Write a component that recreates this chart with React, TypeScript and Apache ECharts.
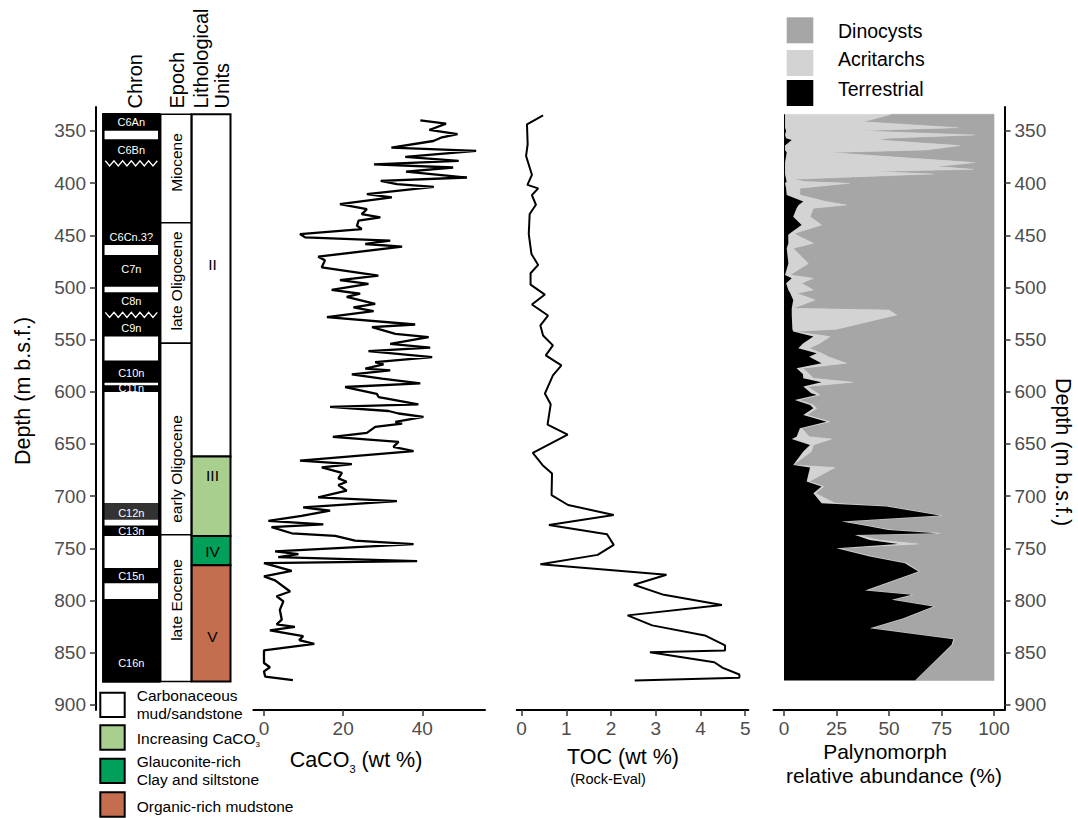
import React, { useEffect, useRef } from "react";
import * as echarts from "echarts";

const FONT = '"Liberation Sans", Arial, Helvetica, sans-serif';

// ---- tick labels ----
const depthTicks = [350, 400, 450, 500, 550, 600, 650, 700, 750, 800, 850, 900];
const caco3Ticks = [0, 20, 40];
const tocTicks = [0, 1, 2, 3, 4, 5];
const palyTicks = [0, 25, 50, 75, 100];

// ---- CaCO3 (wt %) vs depth ----
const caco3Depth = [339.8, 343, 349, 353, 356, 359.6, 366, 369, 374.8, 378.7, 382, 385, 389, 394.6, 397.8, 401, 403.5, 410.5, 413.7, 420, 425, 429.6, 432.9, 436, 440.8, 444, 448.8, 452, 455, 458.3, 460.9, 470.5, 474, 480.7, 488.6, 493, 496.6, 502.3, 506, 509, 515.7, 519, 522.7, 528.5, 535.5, 538, 544.4, 547.6, 554, 557.7, 561, 566.7, 571.5, 573.7, 577.8, 579.4, 583.3, 587.4, 592, 595.4, 602, 605, 612, 614.5, 618.4, 620.8, 624, 628.8, 630.4, 633.6, 639.4, 643.2, 648, 652.8, 656.9, 666, 669.3, 672.5, 677.6, 683, 686.2, 689.4, 694.8, 701.2, 704.7, 710.7, 714, 719, 723.8, 727, 729.8, 735.6, 738.1, 742.6, 746, 753, 755.6, 758.5, 762.3, 764.3, 771.6, 777, 780.8, 791.4, 796, 800.9, 809, 818.4, 823, 825.4, 828.6, 834.3, 838, 841.7, 847.8, 859.9, 864, 868, 873, 876.4];
const caco3Value = [39.5, 46, 41.8, 48.9, 45, 42.8, 32.2, 53.6, 35.7, 49.2, 27.8, 47.8, 35.9, 51.3, 29.5, 33.6, 42.9, 26, 32.3, 19.2, 26, 24.7, 29.4, 23.9, 23.5, 24.7, 9.1, 10.4, 31.9, 25.6, 34.9, 13.7, 15.4, 14.6, 28.9, 19.2, 26.4, 17.1, 24.3, 20.9, 28.1, 22.6, 27.7, 15.9, 38.2, 27.3, 33.2, 41.6, 31.9, 42, 26.4, 42.5, 28.1, 30.2, 25.6, 31.9, 22.2, 29.8, 39.5, 20.5, 28.5, 29, 39, 16.7, 31.5, 34, 40.3, 33.2, 34.9, 28.1, 26, 17.4, 34, 32.7, 37.8, 9.1, 22.2, 14.6, 19.7, 18.8, 20.9, 18.8, 20.9, 13.7, 33.6, 9.9, 16.7, 9.5, 1.1, 15, 1.9, 7, 18, 23, 37.8, 2.8, 8.7, 3.6, 38.7, 0, 7, 0, 2.8, 6.6, 3.2, 4.9, 4, 4.5, 3.2, 7.8, 1.5, 9.9, 8.9, 12.7, 0, 0, 1.5, 0, 0.3, 7.3];

// ---- TOC (wt %) vs depth ----
const tocDepth = [335, 343.6, 362.7, 373.9, 392, 401.6, 405, 411.5, 420.7, 429.6, 448.8, 467.9, 478.4, 486.4, 497.2, 506.8, 516.3, 526.9, 536.4, 546, 555.5, 565, 574.7, 584.2, 601.7, 612, 631.4, 641, 658.5, 670.3, 678.2, 699, 708.5, 718, 727.6, 736.5, 746.7, 756.3, 765.2, 775.4, 785, 794.6, 804.4, 814.3, 823.9, 833.5, 843, 848, 849.7, 859.2, 864.6, 871, 874, 876.8];
const tocValue = [0.48, 0.12, 0.135, 0.1, 0.23, 0.13, 0.37, 0.23, 0.32, 0.18, 0.16, 0.22, 0.37, 0.2, 0.2, 0.52, 0.23, 0.59, 0.42, 0.48, 0.7, 0.54, 0.89, 0.7, 0.52, 0.65, 0.58, 1.03, 0.25, 0.47, 0.68, 0.67, 1.04, 2.06, 0.61, 1.91, 2.06, 1.7, 0.42, 3.24, 2.51, 3.18, 4.48, 2.37, 2.92, 4.1, 4.55, 4.55, 2.87, 4.31, 4.5, 4.87, 4.87, 2.53];

// ---- Palynomorph relative abundance (%) ----
const palyDepth = [334, 341.1, 346.8, 349.7, 353.8, 357, 358.6, 364, 368.2, 370.7, 380.3, 384.1, 386.7, 388.9, 391.2, 396.3, 398.5, 400.1, 404.9, 411.3, 417.7, 420.9, 424.1, 432.1, 440.1, 448.1, 449.7, 457.7, 462.5, 476.9, 488, 491.2, 496, 502.4, 505.6, 512, 520, 521.6, 526.4, 540, 542.3, 547.1, 553.5, 558.3, 563.1, 566.3, 572.6, 577.4, 583, 587, 590.8, 595, 601.4, 603, 607.8, 612.6, 615.8, 622.2, 628.6, 635, 643, 645.2, 650.9, 657.3, 670.1, 672.6, 686, 690.8, 697.2, 706.8, 710, 718.6, 724.4, 729.2, 732.4, 735.6, 737.2, 742, 745.8, 750, 757.9, 764.3, 772.3, 790.5, 794.6, 799.4, 805.8, 817, 826.6, 837.1, 842.5, 876.7];
const terrestrial = [0.5, 0.5, 0.5, 1, 0.5, 1, 3.7, 0.5, 0.5, 1.3, 0.5, 0.5, 0.5, 0.5, 0.5, 1, 1.3, 0.5, 1, 1.3, 9.2, 7, 6, 4.4, 8.4, 2.9, 2, 2.1, 1.3, 2.1, 0.5, 3.7, 1, 2.1, 3, 4.4, 3.7, 3.7, 3.7, 4, 4.4, 14, 9.2, 6.8, 15.6, 12, 17.9, 6, 9, 9.2, 17.9, 9.2, 13, 15.6, 5.2, 12.4, 14, 9.2, 20.3, 7.6, 6, 3.7, 12.4, 9.2, 4.4, 12.4, 10.8, 17.9, 14, 17.9, 48.9, 74.3, 27.5, 40.9, 49.7, 72.7, 33.8, 40.9, 54.4, 25, 40.9, 57.6, 64, 38.6, 60.8, 51.3, 71.1, 56.8, 40.9, 80.6, 79.8, 62.4];
const acritarchs = [50.8, 37.3, 82.5, 34.4, 90.4, 48, 41.3, 83.3, 67.4, 20.6, 90.4, 72.2, 89.7, 43.6, 70.6, 3.4, 8.7, 30.9, 6.6, 6.3, 10.8, 22.8, 8, 8, 9.5, 2.3, 4, 11.9, 3.1, 9.5, 2.4, 10.3, 7.4, 11.9, 3, 10.4, 0.7, 46.3, 50, 21, 0.6, 7.9, 7.9, 5.2, 2.4, 9, 11.9, 3, 3, 4.8, 15.1, 1.8, 3, 1.4, 1.8, 1.6, 1.6, 1.8, 1.6, 0.8, 6, 19, 1.6, 3.8, 0, 11.9, 1.2, 1.1, 1, 6.4, 1.1, 0.8, 1, 1.1, 1.3, 1.6, 1.2, 4.1, 9.6, 1, 1.1, 0.9, 0.4, 0.6, 0.5, 0.5, 0.4, 0.4, 0.4, 0.3, 0.3, 0];
const dinocysts = terrestrial.map((t, i) => Math.max(0, 100 - t - acritarchs[i]));

// ---- Stratigraphic columns ----
const columnTop = 334;
const columnBottom = 877.7;
const chronTop = [334, 358.0, 468.8, 504.6, 570.1, 593.7, 706.7, 728.2, 769, 798.7];
const chronBottom = [349.7, 459.2, 499.2, 547.1, 591.2, 600.1, 722.7, 738.1, 783.4, 877.7];
const chronUncertain = [false, false, false, false, false, false, true, false, false, false];
const chronLabels = ["C6An", "C6Bn", "C6Cn.3?", "C7n", "C8n", "C9n", "C10n", "C11n", "C12n", "C13n", "C15n", "C16n"];
const chronLabelDepth = [341.4, 368.2, 451.6, 482.3, 513, 538.9, 582.2, 596.6, 716.3, 733.3, 776.4, 859.8];
const hiatusDepth = [381, 526.3];

const epochNames = ["Miocene", "late Oligocene", "early Oligocene", "late Eocene"];
const epochTop = [334, 437.9, 553.4, 737.1];
const epochBottom = [437.9, 553.4, 737.1, 877.7];
const epochLabelDepth = [380.2, 493.7, 673.9, 799.5];

const unitNames = ["II", "III", "IV", "V"];
const unitTop = [334, 662.1, 738.1, 766.2];
const unitBottom = [662.1, 738.1, 766.2, 877.7];
const unitLabelDepth = [478.4, 680.6, 753.1, 834.6];

// ---- layout constants (strat grid x-units are pixels from the left axis) ----
const CHRON_X0 = 7.3, CHRON_X1 = 63.3, CHRON_XC = 35.3;
const EPOCH_X0 = 64.7, EPOCH_X1 = 95.3, EPOCH_XC = 80.5;
const UNIT_X0 = 95.7, UNIT_X1 = 134.5, UNIT_XC = 116.5;
const UNIT_COLORS = ["#ffffff", "#a9cf8f", "#00a05a", "#c46e4f"];
const DINO_C = "#a6a6a6", ACRI_C = "#d3d3d3", TERR_C = "#000000";

const GRID_TOP = 107, GRID_H = 603;
const DEPTH_MIN = 327, DEPTH_MAX = 905;

function rectFrom(api: any, x0: number, x1: number, d0: number, d1: number, style: any) {
  const p0 = api.coord([x0, d0]);
  const p1 = api.coord([x1, d1]);
  return { type: "rect", shape: { x: p0[0], y: p0[1], width: p1[0] - p0[0], height: p1[1] - p0[1] }, style };
}

function textEl(x: number, y: number, text: string, size: number, fill: string, rotation = 0, align = "center") {
  return {
    type: "text",
    x,
    y,
    rotation,
    style: {
      text,
      fill,
      fontSize: size,
      fontFamily: FONT,
      align,
      verticalAlign: "middle",
      textAlign: align,
      textVerticalAlign: "middle",
    },
  };
}

function buildOption() {
  const depthAxis = (gridIndex: number, show: boolean, position: string) => ({
    type: "value",
    gridIndex,
    show,
    position,
    inverse: true,
    min: DEPTH_MIN,
    max: DEPTH_MAX,
    splitLine: { show: false },
    axisLine: { show: true, onZero: false, lineStyle: { color: "#000", width: 2 } },
    axisTick: { show: true, length: 6, customValues: depthTicks, lineStyle: { color: "#333", width: 1.5 } },
    axisLabel: { show: true, customValues: depthTicks, color: "#4d4d4d", fontSize: 19, fontFamily: FONT, margin: 10 },
  });
  const valueAxis = (gridIndex: number, min: number, max: number, ticks: number[]) => ({
    type: "value",
    gridIndex,
    position: "bottom",
    min,
    max,
    splitLine: { show: false },
    axisLine: { show: true, onZero: false, lineStyle: { color: "#000", width: 2 } },
    axisTick: { show: true, length: 6, customValues: ticks, lineStyle: { color: "#333", width: 1.5 } },
    axisLabel: { show: true, customValues: ticks, color: "#4d4d4d", fontSize: 19, fontFamily: FONT, margin: 9 },
  });

  const grids = [
    { left: 96, top: GRID_TOP, width: 137, height: GRID_H, outerBoundsMode: "none", containLabel: false },
    { left: 253.3, top: GRID_TOP, width: 231.7, height: GRID_H, outerBoundsMode: "none", containLabel: false },
    { left: 516.7, top: GRID_TOP, width: 231.6, height: GRID_H, outerBoundsMode: "none", containLabel: false },
    { left: 773.5, top: GRID_TOP, width: 231, height: GRID_H, outerBoundsMode: "none", containLabel: false },
  ];

  const xAxes = [
    { type: "value", gridIndex: 0, show: false, min: 0, max: 137 },
    valueAxis(1, -2.7, 55.85, caco3Ticks),
    valueAxis(2, -0.11, 5.07, tocTicks),
    valueAxis(3, -5, 105, palyTicks),
  ];
  const yAxes = [depthAxis(0, true, "left"), depthAxis(1, false, "left"), depthAxis(2, false, "left"), depthAxis(3, true, "right")];

  const series: any[] = [];

  // chron blocks
  series.push({
    type: "custom",
    xAxisIndex: 0,
    yAxisIndex: 0,
    z: 2,
    data: chronTop.map((t, i) => [CHRON_XC, t, chronBottom[i]]),
    encode: { x: 0, y: [1, 2] },
    renderItem: (params: any, api: any) =>
      rectFrom(api, CHRON_X0, CHRON_X1, api.value(1), api.value(2), {
        fill: chronUncertain[params.dataIndex] ? "#333333" : "#000000",
      }),
  });
  // chron outline
  series.push({
    type: "custom",
    xAxisIndex: 0,
    yAxisIndex: 0,
    z: 3,
    data: [[CHRON_XC, columnTop, columnBottom]],
    encode: { x: 0, y: [1, 2] },
    renderItem: (params: any, api: any) =>
      rectFrom(api, CHRON_X0, CHRON_X1, api.value(1), api.value(2), { fill: "none", stroke: "#000", lineWidth: 2.5 }),
  });
  // hiatus zigzags
  series.push({
    type: "custom",
    xAxisIndex: 0,
    yAxisIndex: 0,
    z: 4,
    data: hiatusDepth.map((d) => [CHRON_XC, d]),
    renderItem: (params: any, api: any) => {
      const pl = api.coord([CHRON_X0 + 2, api.value(1)]);
      const pr = api.coord([CHRON_X1 - 2, api.value(1)]);
      const n = 12;
      const pts: number[][] = [];
      for (let k = 0; k <= n; k++) {
        pts.push([pl[0] + ((pr[0] - pl[0]) * k) / n, pl[1] + (k % 2 === 0 ? -2.6 : 2.6)]);
      }
      return { type: "polyline", shape: { points: pts }, style: { stroke: "#fff", lineWidth: 1.3, fill: "none" } };
    },
  });
  // chron labels
  series.push({
    type: "custom",
    xAxisIndex: 0,
    yAxisIndex: 0,
    z: 5,
    data: chronLabelDepth.map((d) => [CHRON_XC, d]),
    renderItem: (params: any, api: any) => {
      const p = api.coord([CHRON_XC, api.value(1)]);
      return textEl(p[0], p[1], chronLabels[params.dataIndex], 11, "#ffffff");
    },
  });
  // epochs
  series.push({
    type: "custom",
    xAxisIndex: 0,
    yAxisIndex: 0,
    z: 2,
    data: epochTop.map((t, i) => [EPOCH_XC, t, epochBottom[i]]),
    encode: { x: 0, y: [1, 2] },
    renderItem: (params: any, api: any) => {
      const i = params.dataIndex;
      const r = rectFrom(api, EPOCH_X0, EPOCH_X1, api.value(1), api.value(2), {
        fill: "#ffffff",
        stroke: "#000",
        lineWidth: 1.5,
      });
      const p = api.coord([EPOCH_XC, epochLabelDepth[i]]);
      return { type: "group", children: [r, textEl(p[0], p[1], epochNames[i], 15.5, "#000", Math.PI / 2)] };
    },
  });
  // lithological units
  series.push({
    type: "custom",
    xAxisIndex: 0,
    yAxisIndex: 0,
    z: 2,
    data: unitTop.map((t, i) => [UNIT_XC, t, unitBottom[i]]),
    encode: { x: 0, y: [1, 2] },
    renderItem: (params: any, api: any) => {
      const i = params.dataIndex;
      const r = rectFrom(api, UNIT_X0, UNIT_X1, api.value(1), api.value(2), {
        fill: UNIT_COLORS[i],
        stroke: "#000",
        lineWidth: 2,
      });
      const p = api.coord([UNIT_XC, unitLabelDepth[i]]);
      return { type: "group", children: [r, textEl(p[0], p[1], unitNames[i], 15.5, "#000")] };
    },
  });

  // CaCO3 line
  series.push({
    type: "line",
    xAxisIndex: 1,
    yAxisIndex: 1,
    data: caco3Value.map((v, i) => [v, caco3Depth[i]]),
    showSymbol: false,
    symbol: "none",
    lineStyle: { color: "#000", width: 2.3 },
    z: 3,
  });
  // TOC line
  series.push({
    type: "line",
    xAxisIndex: 2,
    yAxisIndex: 2,
    data: tocValue.map((v, i) => [v, tocDepth[i]]),
    showSymbol: false,
    symbol: "none",
    lineStyle: { color: "#000", width: 2 },
    z: 3,
  });

  // Palynomorph stacked areas
  const n = palyDepth.length;
  const cumT = terrestrial.slice();
  const cumTA = terrestrial.map((t, i) => t + acritarchs[i]);
  const cumAll = cumTA.map((v, i) => v + dinocysts[i]);
  series.push({
    type: "custom",
    name: "Dinocysts",
    xAxisIndex: 3,
    yAxisIndex: 3,
    z: 2,
    data: [[0, palyDepth[0]]],
    renderItem: (params: any, api: any) => {
      const pts: number[][] = [];
      for (let i = 0; i < n; i++) pts.push(api.coord([cumTA[i], palyDepth[i]]));
      for (let i = n - 1; i >= 0; i--) pts.push(api.coord([cumAll[i], palyDepth[i]]));
      return { type: "polygon", shape: { points: pts }, style: { fill: DINO_C, stroke: DINO_C, lineWidth: 0.6 } };
    },
  });
  series.push({
    type: "custom",
    name: "Acritarchs",
    xAxisIndex: 3,
    yAxisIndex: 3,
    z: 3,
    data: [[0, palyDepth[0]]],
    renderItem: (params: any, api: any) => {
      const pts: number[][] = [];
      for (let i = 0; i < n; i++) pts.push(api.coord([cumT[i], palyDepth[i]]));
      for (let i = n - 1; i >= 0; i--) pts.push(api.coord([cumTA[i], palyDepth[i]]));
      return { type: "polygon", shape: { points: pts }, style: { fill: ACRI_C, stroke: ACRI_C, lineWidth: 0.4 } };
    },
  });
  series.push({
    type: "custom",
    name: "Terrestrial",
    xAxisIndex: 3,
    yAxisIndex: 3,
    z: 4,
    data: [[0, palyDepth[0]]],
    renderItem: (params: any, api: any) => {
      const pts: number[][] = [api.coord([0, palyDepth[0]])];
      for (let i = 0; i < n; i++) pts.push(api.coord([cumT[i], palyDepth[i]]));
      pts.push(api.coord([0, palyDepth[n - 1]]));
      return { type: "polygon", shape: { points: pts }, style: { fill: TERR_C } };
    },
  });

  const subRich = (size: number, subSize: number, lh: number, subLh: number) => ({
    a: { fontSize: size, fontFamily: FONT, lineHeight: lh, fill: "#000", color: "#000" },
    s: { fontSize: subSize, fontFamily: FONT, lineHeight: subLh, verticalAlign: "bottom", fill: "#000", color: "#000" },
  });

  const graphic: any[] = [
    // column headers
    textEl(135, 108.5, "Chron", 20, "#000", Math.PI / 2, "left"),
    textEl(177, 108.5, "Epoch", 20, "#000", Math.PI / 2, "left"),
    textEl(200.5, 108.5, "Lithological", 20, "#000", Math.PI / 2, "left"),
    textEl(221.5, 108.5, "Units", 20, "#000", Math.PI / 2, "left"),
    // axis titles
    textEl(23, 391, "Depth (m b.s.f.)", 21.5, "#000", Math.PI / 2),
    textEl(1063, 452, "Depth (m b.s.f.)", 21.5, "#000", -Math.PI / 2),
    {
      type: "text",
      x: 356,
      y: 760,
      style: {
        text: "{a|CaCO}{s|3}{a| (wt %)}",
        rich: subRich(21.5, 11, 28, 8),
        align: "center",
        verticalAlign: "middle",
        textAlign: "center",
        textVerticalAlign: "middle",
      },
    },
    textEl(623, 756.5, "TOC (wt %)", 21.5, "#000"),
    textEl(608, 778.5, "(Rock-Eval)", 14.5, "#000"),
    textEl(885, 751, "Palynomorph", 21, "#000"),
    textEl(894, 775, "relative abundance (%)", 21, "#000"),
    // palynomorph legend
    { type: "rect", shape: { x: 786.7, y: 17.3, width: 26.6, height: 26 }, style: { fill: DINO_C } },
    { type: "rect", shape: { x: 786.7, y: 50, width: 26.6, height: 26 }, style: { fill: ACRI_C } },
    { type: "rect", shape: { x: 786.7, y: 80, width: 26.6, height: 26 }, style: { fill: TERR_C } },
    textEl(838, 30.7, "Dinocysts", 19.5, "#000", 0, "left"),
    textEl(838, 59.3, "Acritarchs", 19.5, "#000", 0, "left"),
    textEl(838, 89.3, "Terrestrial", 19.5, "#000", 0, "left"),
    // lithology legend
    { type: "rect", shape: { x: 100.3, y: 692.7, width: 24.4, height: 24.4 }, style: { fill: UNIT_COLORS[0], stroke: "#000", lineWidth: 2 } },
    { type: "rect", shape: { x: 100.3, y: 725.3, width: 24.4, height: 24.4 }, style: { fill: UNIT_COLORS[1], stroke: "#000", lineWidth: 2 } },
    { type: "rect", shape: { x: 100.3, y: 758.7, width: 24.4, height: 24.4 }, style: { fill: UNIT_COLORS[2], stroke: "#000", lineWidth: 2 } },
    { type: "rect", shape: { x: 100.3, y: 792.3, width: 24.4, height: 24.4 }, style: { fill: UNIT_COLORS[3], stroke: "#000", lineWidth: 2 } },
    textEl(136.7, 695, "Carbonaceous", 15.5, "#000", 0, "left"),
    textEl(136.7, 713.3, "mud/sandstone", 15.5, "#000", 0, "left"),
    {
      type: "text",
      x: 136.7,
      y: 738.5,
      style: {
        text: "{a|Increasing CaCO}{s|3}",
        rich: subRich(15.5, 8, 20, 6),
        align: "left",
        verticalAlign: "middle",
        textAlign: "left",
        textVerticalAlign: "middle",
      },
    },
    textEl(136.7, 761.7, "Glauconite-rich", 15.5, "#000", 0, "left"),
    textEl(136.7, 779.3, "Clay and siltstone", 15.5, "#000", 0, "left"),
    textEl(136.7, 806, "Organic-rich mudstone", 15.5, "#000", 0, "left"),
  ];

  return {
    animation: false,
    backgroundColor: "#ffffff",
    textStyle: { fontFamily: FONT },
    grid: grids,
    xAxis: xAxes,
    yAxis: yAxes,
    series,
    graphic,
  };
}

export default function App() {
  const ref = useRef<HTMLDivElement>(null);
  useEffect(() => {
    if (!ref.current) return;
    const chart = echarts.init(ref.current, null, { renderer: "svg" });
    chart.setOption(buildOption() as any);
    return () => chart.dispose();
  }, []);
  return (
    <div
      ref={ref}
      style={{ position: "fixed", left: 0, top: 0, width: 1078, height: 818, background: "#fff" }}
    />
  );
}
